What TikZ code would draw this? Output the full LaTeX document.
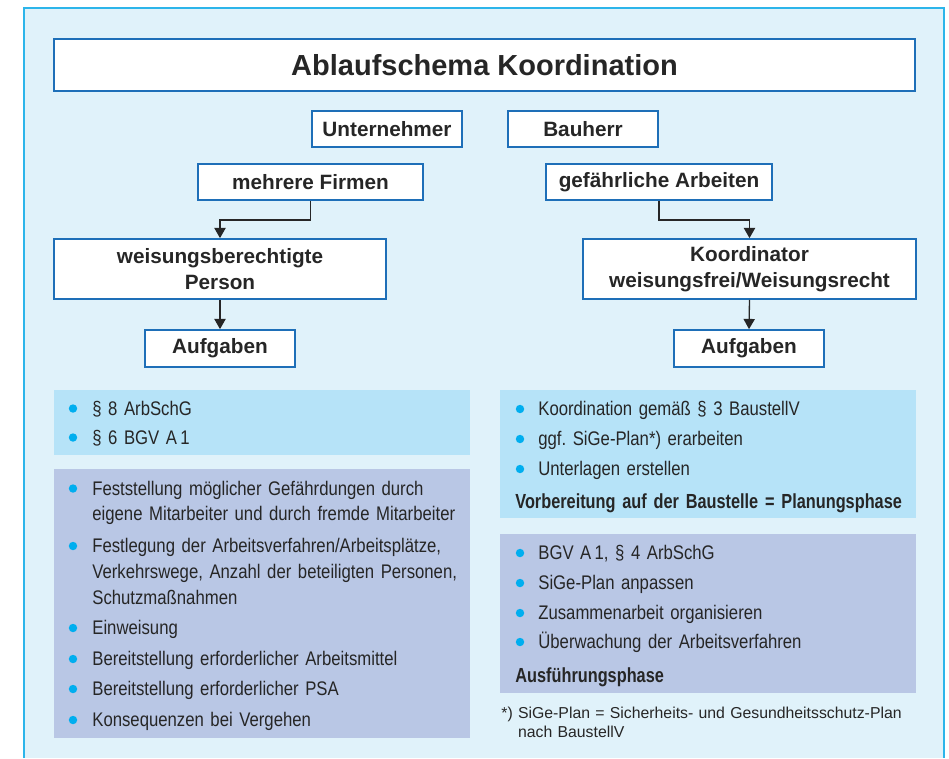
\documentclass[tikz,border=0pt]{standalone}
\usetikzlibrary{arrows.meta}
\usepackage{fontspec}
\setmainfont{Liberation Sans}
\newfontfamily\narrowfont[FakeStretch=0.85,WordSpace=0.8]{Liberation Sans}
\newfontfamily\narrowbold[FakeStretch=0.8,WordSpace=0.8]{Liberation Sans Bold}
\definecolor{framecyan}{HTML}{2CB5EA}
\definecolor{paper}{HTML}{E0F2FA}
\definecolor{boxblue}{HTML}{1E6FB8}
\definecolor{paleblue}{HTML}{B6E3F8}
\definecolor{palelilac}{HTML}{B9C7E5}
\definecolor{dotcyan}{HTML}{00AEEF}
\definecolor{ink}{HTML}{262626}

\begin{document}
\frenchspacing
\hyphenpenalty=10000
\begin{tikzpicture}[x=0.02cm,y=-0.02cm,
  box/.style={draw=boxblue,line width=1pt,fill=white,inner sep=0pt,align=center,text=ink,
    font=\fontsize{11.8}{14.75}\selectfont\bfseries},
  flow/.style={draw=ink,line width=0.75pt,-{Triangle[width=6.4pt,length=5.8pt]}},
  item/.style={anchor=base west,inner sep=0pt,text width=8.2cm,align=left,text=ink,
    font=\narrowfont\fontsize{11.2}{14.75}\selectfont},
  phase/.style={item,font=\narrowbold\fontsize{11.6}{14.75}\selectfont},
  dot/.style={fill=dotcyan}]
\useasboundingbox (0,0) rectangle (949,758);
% ---------- Rahmen ----------
\fill[paper] (24,8) rectangle (944,758);
\draw[framecyan,line width=1.1pt] (24,758) -- (24,8) -- (944,8) -- (944,758);
\node[box,minimum width=17.22cm,minimum height=1.04cm,
  font=\fontsize{16.5}{20}\selectfont\bfseries] (title) at (484.5,65) {Ablaufschema Koordination};
% ---------- Ablauf links: Unternehmer ----------
\node[box,minimum width=3cm,minimum height=0.72cm] (unternehmer) at (387,129) {Unternehmer};
\node[box,minimum width=4.5cm,minimum height=0.72cm] (firmen) at (310.5,182) {mehrere Firmen};
\node[box,minimum width=6.64cm,minimum height=1.2cm] (person) at (220,269) {weisungsberechtigte\\Person};
\node[box,minimum width=3cm,minimum height=0.74cm] (aufgabenL) at (220,348.5) {Aufgaben};
\draw[flow] (firmen.south) -- ++(0,19) -| (person.north);
\draw[flow] (person.south) -- (aufgabenL.north);
% ---------- Ablauf rechts: Bauherr ----------
\node[box,minimum width=3cm,minimum height=0.72cm] (bauherr) at (583,129) {Bauherr};
\node[box,minimum width=4.52cm,minimum height=0.72cm] (gefahr) at (659,182) {gefährliche Arbeiten};
\node[box,minimum width=6.66cm,minimum height=1.2cm] (koord) at (749.5,269) {Koordinator\\weisungsfrei/Weisungsrecht};
\node[box,minimum width=3cm,minimum height=0.74cm] (aufgabenR) at (749,348.5) {Aufgaben};
\draw[flow] (gefahr.south) -- ++(0,19) -| (koord.north);
\draw[flow] (koord.south) -- (aufgabenR.north);
% ---------- Aufgaben links ----------
\fill[paleblue] (54,390) rectangle (470,455);
\foreach \y/\txt [count=\i] in {415/{\S~8 ArbSchG}, 444/{\S~6 BGV A\,1}}{
  \fill[dot] (73,\y-6.5) circle (2.4pt);
  \node[item] (pflichtL\i) at (92,\y) {\txt};
}
\fill[palelilac] (54,469) rectangle (470,738);
\foreach \y/\txt [count=\i] in {
    495/{Feststellung möglicher Gefährdungen durch\\eigene Mitarbeiter und durch fremde Mitarbeiter},
    552.5/{Festlegung der Arbeitsverfahren/Arbeitsplätze,\\Verkehrswege, Anzahl der beteiligten Personen,\\Schutzmaßnahmen},
    634.5/{Einweisung},
    665.5/{Bereitstellung erforderlicher Arbeitsmittel},
    695.5/{Bereitstellung erforderlicher PSA},
    726.5/{Konsequenzen bei Vergehen}}{
  \fill[dot] (73,\y-6.5) circle (2.4pt);
  \node[item] (aufgabeL\i) at (92,\y) {\txt};
}
% ---------- Aufgaben rechts ----------
\fill[paleblue] (500,390) rectangle (916,518);
\foreach \y/\txt [count=\i] in {415.5/{Koordination gemäß \S~3 BaustellV},
    445.5/{ggf. SiGe-Plan*) erarbeiten}, 475.5/{Unterlagen erstellen}}{
  \fill[dot] (520,\y-6.5) circle (2.4pt);
  \node[item] (planung\i) at (538,\y) {\txt};
}
\node[phase] (planphase) at (515,508.5) {Vorbereitung auf der Baustelle = Planungsphase};
\fill[palelilac] (500,534) rectangle (916,693);
\foreach \y/\txt [count=\i] in {559.5/{BGV A\,1, \S~4 ArbSchG}, 589.5/{SiGe-Plan anpassen},
    619.5/{Zusammenarbeit organisieren}, 648.5/{Überwachung der Arbeitsverfahren}}{
  \fill[dot] (520,\y-6.5) circle (2.4pt);
  \node[item] (ausfuehrung\i) at (538,\y) {\txt};
}
\node[phase] (ausphase) at (515,682.5) {Ausführungsphase};
% Fussnote
\node[item,text width=9cm,font=\fontsize{9}{10.8}\selectfont] (fussnote) at (501,718.5)
  {*)~SiGe-Plan = Sicherheits- und Gesundheitsschutz-Plan\\\hphantom{*)~}nach BaustellV};
\end{tikzpicture}
\end{document}
